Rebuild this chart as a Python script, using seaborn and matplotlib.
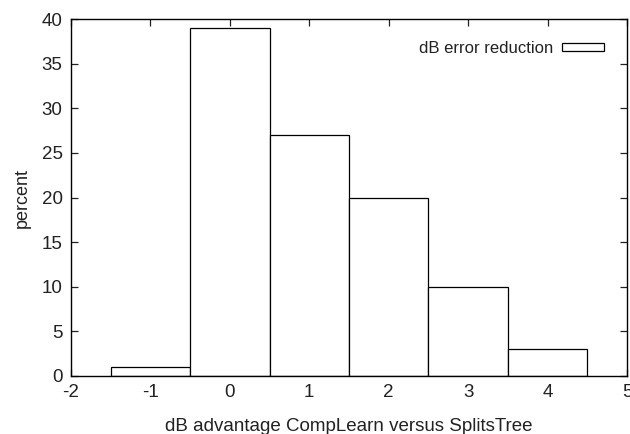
import matplotlib
matplotlib.use("Agg")
import matplotlib.pyplot as plt
import seaborn as sns
import pandas as pd
from matplotlib.patches import Patch

db_advantage = [-1, 0, 1, 2, 3, 4]
percent = [1, 39, 27, 20, 10, 3]
x_ticks = [-2, -1, 0, 1, 2, 3, 4, 5]
y_ticks = [0, 5, 10, 15, 20, 25, 30, 35, 40]

sns.set_theme(style="ticks")
plt.rcParams['font.family'] = ['Liberation Sans', 'DejaVu Sans']

df = pd.DataFrame({"db": db_advantage, "percent": percent})

fig = plt.figure(figsize=(6.3, 4.34), dpi=100)
ax = fig.add_axes([71/630, 1 - 376/434, (627 - 71)/630, (376 - 19)/434])

sns.histplot(data=df, x="db", weights="percent", discrete=True, ax=ax,
             color="white", edgecolor="black", linewidth=0.9, alpha=1)

ax.set_xlim(-2, 5)
ax.set_ylim(0, 40)
ax.set_xticks(x_ticks)
ax.set_yticks(y_ticks)
ax.set_xticklabels([str(v) for v in x_ticks])
ax.set_yticklabels([str(v) for v in y_ticks])
ax.tick_params(direction="in", top=True, right=True, length=5, width=0.9,
               labelsize=13.5, colors="#222222", pad=6)
for s in ax.spines.values():
    s.set_visible(True)
    s.set_color("black")
    s.set_linewidth(1.0)
ax.set_xlabel("dB advantage CompLearn versus SplitsTree", fontsize=13.5,
              labelpad=12, color="#222222")
ax.set_ylabel("percent", fontsize=13, labelpad=8, color="#222222")

handle = Patch(facecolor="white", edgecolor="black", linewidth=0.9)
ax.legend([handle], ["dB error reduction"], loc="upper right", frameon=False,
          markerfirst=False, fontsize=12, handlelength=2.5, handleheight=0.35,
          handletextpad=0.5, bbox_to_anchor=(0.985, 0.98),
          labelcolor="#222222")

fig.savefig("out.png", dpi=100)
